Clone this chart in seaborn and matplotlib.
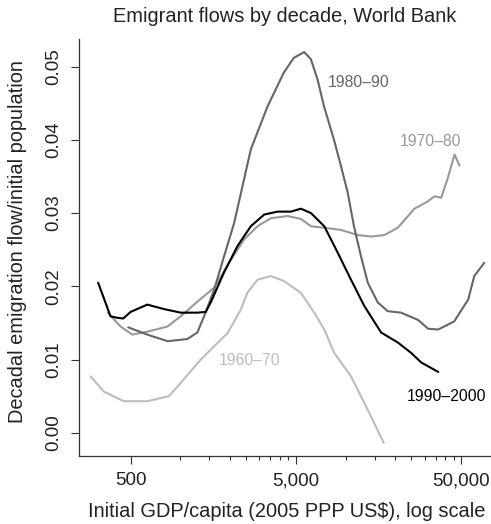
import matplotlib
matplotlib.use("Agg")
import matplotlib.pyplot as plt
import seaborn as sns
import pandas as pd

# ---- data ----
decades = ["1960–70", "1970–80", "1980–90", "1990–2000"]

gdp_1960 = [286, 345, 455, 631, 853, 1005, 1328, 1928, 2320, 2540, 2930, 3525,
            4247, 5360, 6455, 7425, 8530, 10770, 13610, 17000]
flow_1960 = [0.0077, 0.0056, 0.0043, 0.0043, 0.0050, 0.0068, 0.0100, 0.0136,
             0.0168, 0.0191, 0.0209, 0.0214, 0.0207, 0.0191, 0.0164, 0.0141,
             0.0109, 0.0077, 0.0031, -0.0014]

gdp_1970 = [364, 435, 512, 631, 834, 1005, 1268, 1599, 2019, 2430, 2930, 3525,
            4455, 5360, 6165, 7424, 9370, 11830, 14250, 17150, 20660, 26060,
            31400, 34450, 37800, 41500, 45550, 48850]
flow_1970 = [0.0164, 0.0145, 0.0134, 0.0138, 0.0145, 0.0159, 0.0179, 0.0198,
             0.0236, 0.0264, 0.0282, 0.0293, 0.0296, 0.0292, 0.0282, 0.0280,
             0.0277, 0.0270, 0.0268, 0.0270, 0.0280, 0.0306, 0.0316, 0.0323,
             0.0321, 0.0348, 0.0380, 0.0365]

gdp_1980 = [484, 631, 837, 1103, 1268, 1391, 1599, 1838, 2113, 2668, 3372, 4228,
            4853, 5610, 6165, 6770, 7390, 8500, 9370, 10290, 11220, 12380, 13600,
            15630, 17970, 21630, 27430, 31550, 36290, 45330, 55130, 59950, 68880]
flow_1980 = [0.0144, 0.0134, 0.0125, 0.0128, 0.0137, 0.0159, 0.0195, 0.0241,
             0.0286, 0.0387, 0.0446, 0.0492, 0.0512, 0.0520, 0.0510, 0.0482,
             0.0446, 0.0400, 0.0364, 0.0328, 0.0282, 0.0241, 0.0205, 0.0178,
             0.0166, 0.0164, 0.0154, 0.0142, 0.0141, 0.0152, 0.0182, 0.0214,
             0.0232]

gdp_1990 = [318, 378, 415, 451, 500, 631, 792, 1005, 1268, 1424, 1527, 1838,
            2216, 2668, 3213, 3873, 4664, 5360, 6165, 7424, 8946, 10770, 12970,
            16370, 20740, 24890, 28630, 36290]
flow_1990 = [0.0205, 0.0159, 0.0157, 0.0156, 0.0165, 0.0175, 0.0169, 0.0164,
             0.0164, 0.0165, 0.0178, 0.0219, 0.0255, 0.0282, 0.0298, 0.0302,
             0.0302, 0.0306, 0.0300, 0.0282, 0.0246, 0.0209, 0.0173, 0.0137,
             0.0123, 0.0109, 0.0096, 0.0083]

colors = ["#bdbdbd", "#999999", "#666666", "#000000"]

label_x = [2630, 32450, 12050, 40550]
label_y = [0.0098, 0.0398, 0.0478, 0.0050]

x_major = [500, 5000, 50000]
x_major_labels = ["500", "5,000", "50,000"]
x_minor = [1000, 1500, 2000, 2500, 3000, 3500, 4000, 4500,
           10000, 15000, 20000, 25000, 30000, 35000, 40000, 45000]
y_ticks = [0.00, 0.01, 0.02, 0.03, 0.04, 0.05]
y_tick_labels = ["0.00", "0.01", "0.02", "0.03", "0.04", "0.05"]

title = "Emigrant flows by decade, World Bank"
xlabel = "Initial GDP/capita (2005 PPP US$), log scale"
ylabel = "Decadal emigration flow/initial population"

# ---- build long table ----
frames = []
for name, gx, fy in zip(decades, [gdp_1960, gdp_1970, gdp_1980, gdp_1990],
                        [flow_1960, flow_1970, flow_1980, flow_1990]):
    frames.append(pd.DataFrame({"gdp": gx, "flow": fy, "decade": name}))
df = pd.concat(frames, ignore_index=True)

sns.set_style("ticks")
plt.rcParams["font.family"] = ["Liberation Sans", "DejaVu Sans"]

W, H = 491, 524
fig = plt.figure(figsize=(W / 100, H / 100), dpi=100)
left_px, right_px, top_px, bottom_px = 78.5, 491, 39, 455.7
ax = fig.add_axes([left_px / W, 1 - bottom_px / H,
                   (right_px - left_px) / W, (bottom_px - top_px) / H])

ax.set_xscale("log")
sns.lineplot(data=df, x="gdp", y="flow", hue="decade", hue_order=decades,
             palette=dict(zip(decades, colors)), estimator=None, sort=False,
             legend=False, linewidth=1.5, ax=ax)

for name, c, lx, ly in zip(decades, colors, label_x, label_y):
    ax.text(lx, ly, name, color=c, fontsize=11.3, ha="center", va="center")

ax.set_xlim(242, 75700)
ax.set_ylim(-0.00314, 0.05378)

ax.set_xticks(x_major)
ax.set_xticklabels(x_major_labels)
ax.set_xticks(x_minor, minor=True)
ax.set_xticklabels([], minor=True)
ax.set_yticks(y_ticks)
ax.set_yticklabels(y_tick_labels, rotation=90, va="center")

spine_c = "#333333"
for s in ["top", "right"]:
    ax.spines[s].set_visible(False)
for s in ["left", "bottom"]:
    ax.spines[s].set_color(spine_c)
    ax.spines[s].set_linewidth(0.9)

ax.tick_params(axis="both", which="major", bottom=True, left=True,
               length=6, width=0.8, color=spine_c,
               labelsize=13.5, labelcolor="#222222", pad=6)
ax.tick_params(axis="x", which="minor", bottom=True, length=3, width=0.8,
               color=spine_c)
ax.tick_params(axis="y", which="minor", left=False, length=0)

ax.set_xlabel(xlabel, fontsize=14.4, color="#222222")
ax.xaxis.set_label_coords(0.504, -0.112)
ax.set_ylabel(ylabel, fontsize=14.4, color="#222222")
ax.yaxis.set_label_coords(-0.125, 0.515)
ax.set_title(title, fontsize=14.4, color="#222222", y=1.041, pad=0)

fig.savefig("out.png", dpi=100)
